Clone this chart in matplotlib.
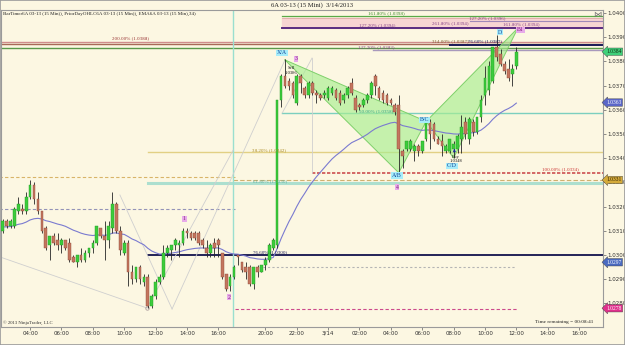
import matplotlib.pyplot as plt
import numpy as np

# 15 minute bars of 6A 03-13 (bar index = position)
opens = [1.0310, 1.0314, 1.0312, 1.0312, 1.0318, 1.0319, 1.0318, 1.0324, 1.0329, 1.0323,
         1.0318, 1.0311, 1.0304, 1.0308, 1.0306, 1.0304, 1.0306, 1.0305, 1.0299, 1.0297,
         1.0300, 1.0298, 1.0301, 1.0303, 1.0305, 1.0311, 1.0308, 1.0306, 1.0311, 1.0321,
         1.0310, 1.0301, 1.0305, 1.0293, 1.0290, 1.0295, 1.0289, 1.0291, 1.0279, 1.0283,
         1.0289, 1.0291, 1.0301, 1.0302, 1.0304, 1.0304, 1.0305, 1.0310, 1.0309, 1.0309,
         1.0309, 1.0306, 1.0303, 1.0301, 1.0305, 1.0306, 1.0301, 1.0292, 1.0287, 1.0291,
         1.0300, 1.0297, 1.0295, 1.0295, 1.0288, 1.0295, 1.0293, 1.0296, 1.0298, 1.0303,
         1.0304, 1.0364, 1.0374, 1.0372, 1.0371, 1.0363, 1.0374, 1.0369, 1.0366, 1.0371,
         1.0367, 1.0366, 1.0366, 1.0365, 1.0367, 1.0368, 1.0367, 1.0364, 1.0366, 1.0371,
         1.0365, 1.0362, 1.0362, 1.0364, 1.0366, 1.0374, 1.0369, 1.0367, 1.0366, 1.0364,
         1.0362, 1.0362, 1.0343, 1.0344, 1.0344, 1.0343, 1.0345, 1.0343, 1.0348, 1.0355,
         1.0354, 1.0348, 1.0347, 1.0343, 1.0343, 1.0344, 1.0344, 1.0348, 1.0355, 1.0348,
         1.0355, 1.0351, 1.0357, 1.0366, 1.0368, 1.0372, 1.0386, 1.0383, 1.0379, 1.0377,
         1.0375, 1.0378]
highs = [1.0315, 1.0315, 1.0315, 1.0320, 1.0324, 1.0321, 1.0326, 1.0331, 1.0330, 1.0326,
         1.0318, 1.0312, 1.0308, 1.0309, 1.0309, 1.0307, 1.0306, 1.0307, 1.0300, 1.0300,
         1.0303, 1.0302, 1.0303, 1.0306, 1.0312, 1.0311, 1.0314, 1.0314, 1.0326, 1.0322,
         1.0312, 1.0306, 1.0306, 1.0296, 1.0295, 1.0296, 1.0292, 1.0292, 1.0284, 1.0290,
         1.0292, 1.0304, 1.0304, 1.0304, 1.0307, 1.0306, 1.0311, 1.0311, 1.0310, 1.0310,
         1.0310, 1.0307, 1.0306, 1.0305, 1.0307, 1.0307, 1.0301, 1.0292, 1.0292, 1.0296,
         1.0300, 1.0297, 1.0297, 1.0296, 1.0295, 1.0296, 1.0296, 1.0299, 1.0305, 1.0307,
         1.0364, 1.0375, 1.0381, 1.0373, 1.0372, 1.0375, 1.0375, 1.0370, 1.0372, 1.0372,
         1.0368, 1.0367, 1.0368, 1.0370, 1.0370, 1.0369, 1.0368, 1.0367, 1.0370, 1.0373,
         1.0366, 1.0363, 1.0365, 1.0367, 1.0372, 1.0375, 1.0370, 1.0368, 1.0367, 1.0365,
         1.0363, 1.0366, 1.0344, 1.0347, 1.0348, 1.0346, 1.0346, 1.0347, 1.0357, 1.0356,
         1.0355, 1.0349, 1.0350, 1.0346, 1.0348, 1.0347, 1.0350, 1.0358, 1.0357, 1.0357,
         1.0356, 1.0357, 1.0366, 1.0378, 1.0380, 1.0386, 1.0391, 1.0385, 1.0380, 1.0381,
         1.0379, 1.0386]
lows = [1.0309, 1.0311, 1.0311, 1.0311, 1.0317, 1.0317, 1.0317, 1.0323, 1.0321, 1.0317,
        1.0309, 1.0302, 1.0298, 1.0304, 1.0302, 1.0301, 1.0302, 1.0297, 1.0297, 1.0295,
        1.0297, 1.0297, 1.0299, 1.0301, 1.0304, 1.0307, 1.0298, 1.0303, 1.0309, 1.0309,
        1.0300, 1.0300, 1.0287, 1.0288, 1.0289, 1.0288, 1.0287, 1.0278, 1.0278, 1.0282,
        1.0288, 1.0290, 1.0299, 1.0298, 1.0302, 1.0299, 1.0304, 1.0307, 1.0306, 1.0306,
        1.0304, 1.0303, 1.0299, 1.0299, 1.0299, 1.0299, 1.0290, 1.0285, 1.0285, 1.0290,
        1.0296, 1.0293, 1.0290, 1.0287, 1.0286, 1.0291, 1.0293, 1.0294, 1.0297, 1.0302,
        1.0303, 1.0361, 1.0369, 1.0368, 1.0365, 1.0362, 1.0367, 1.0365, 1.0365, 1.0366,
        1.0363, 1.0364, 1.0365, 1.0364, 1.0366, 1.0364, 1.0362, 1.0363, 1.0365, 1.0366,
        1.0359, 1.0360, 1.0361, 1.0363, 1.0365, 1.0366, 1.0364, 1.0363, 1.0362, 1.0362,
        1.0358, 1.0334, 1.0336, 1.0343, 1.0343, 1.0339, 1.0341, 1.0342, 1.0347, 1.0344,
        1.0347, 1.0346, 1.0341, 1.0342, 1.0342, 1.0340, 1.0342, 1.0342, 1.0348, 1.0346,
        1.0349, 1.0350, 1.0355, 1.0362, 1.0366, 1.0371, 1.0380, 1.0378, 1.0375, 1.0372,
        1.0370, 1.0377]
closes = [1.0314, 1.0312, 1.0314, 1.0319, 1.0321, 1.0318, 1.0324, 1.0329, 1.0323, 1.0318,
          1.0310, 1.0303, 1.0308, 1.0305, 1.0304, 1.0306, 1.0303, 1.0298, 1.0297, 1.0300,
          1.0298, 1.0301, 1.0303, 1.0305, 1.0312, 1.0308, 1.0306, 1.0312, 1.0321, 1.0310,
          1.0302, 1.0305, 1.0293, 1.0290, 1.0295, 1.0290, 1.0291, 1.0279, 1.0283, 1.0289,
          1.0291, 1.0301, 1.0303, 1.0304, 1.0306, 1.0305, 1.0310, 1.0309, 1.0307, 1.0307,
          1.0305, 1.0304, 1.0301, 1.0304, 1.0303, 1.0304, 1.0291, 1.0286, 1.0291, 1.0295,
          1.0299, 1.0294, 1.0293, 1.0288, 1.0295, 1.0293, 1.0296, 1.0298, 1.0304, 1.0306,
          1.0364, 1.0374, 1.0370, 1.0370, 1.0366, 1.0374, 1.0371, 1.0366, 1.0371, 1.0367,
          1.0366, 1.0365, 1.0367, 1.0369, 1.0369, 1.0365, 1.0363, 1.0366, 1.0369, 1.0367,
          1.0360, 1.0361, 1.0364, 1.0366, 1.0371, 1.0370, 1.0365, 1.0364, 1.0363, 1.0363,
          1.0359, 1.0344, 1.0341, 1.0347, 1.0347, 1.0345, 1.0343, 1.0347, 1.0355, 1.0350,
          1.0348, 1.0346, 1.0345, 1.0345, 1.0348, 1.0346, 1.0349, 1.0353, 1.0350, 1.0356,
          1.0351, 1.0357, 1.0364, 1.0373, 1.0378, 1.0386, 1.0382, 1.0379, 1.0376, 1.0373,
          1.0377, 1.0384]

# EMA(34) on the closes, started from the value seen at the left edge
ema_period = 34
ema_start = 1.03116

time_ticks = [7, 15, 23, 31, 39, 47, 55, 67, 75, 83, 91, 99, 107, 115, 123, 131, 139, 147]
time_labels = ['04:00', '06:00', '08:00', '10:00', '12:00', '14:00', '16:00', '20:00', '22:00',
               '3/14', '02:00', '04:00', '06:00', '08:00', '10:00', '12:00', '14:00', '16:00']
price_ticks = [1.0280, 1.0290, 1.0300, 1.0310, 1.0320, 1.0330, 1.0340, 1.0350, 1.0360,
               1.0370, 1.0380, 1.0390, 1.0400]

# fib / drawing-tool levels: price, first bar, last bar
level_prices = [1.03988, 1.03979, 1.03967, 1.03938, 1.03880, 1.03872, 1.03866, 1.03855,
                1.03847, 1.03587, 1.03426, 1.03339, 1.03322, 1.03310, 1.03298, 1.03190,
                1.03000, 1.02950, 1.02777]
level_start = [71.2, 71.2, 119.2, 71.2, -1, -1, 114, -1, 94.5, 71.2, 37.1, 78.9, -1, 58.8,
               37.1, -1, 37.1, 66.4, 59.3]
level_end = [154, 154, 154, 154, 154, 154, 154, 154, 154, 154, 154, 154, 59.3, 154, 154,
             59.3, 154, 130.7, 131.2]
level_colors = ['#5aaa48', '#e0a8a8', '#a088b8', '#5a2a80', '#d08c8c', '#a86a58', '#1a1a5a',
                '#5a9a4a', '#a898bc', '#7ccfbf', '#e2d084', '#cc5050', '#d8b468', '#d0b070',
                '#acdfcf', '#9494b8', '#12124c', '#b4b4b4', '#cc4a8c']
level_styles = ['-', '-', '-', '-', '-', '-', '-', '-', '-', '-', '-', (0, (2, 1)), (0, (3, 2)),
                (0, (4, 2)), '-', (0, (3, 2)), '-', (0, (2, 2)), (0, (3, 2))]
level_widths = [0.9, 0.6, 0.8, 1.4, 1.0, 1.0, 1.4, 1.0, 1.0, 1.0, 1.0, 1.2, 0.8, 0.8, 2.2,
                0.8, 1.3, 0.8, 0.8]

fib_texts = ['161.80% (1.0398)', '127.20% (1.0396)', '127.20% (1.0394)', '261.80% (1.0394)',
             '161.80% (1.0394)', '200.00% (1.0388)', '314.00% (1.0387)', '76.60% (1.0387)',
             '127.20% (1.0383)', '50.00% (1.0358)', '38.20% (1.0342)', '100.00% (1.0334)',
             '61.80% (1.0330)', '76.60% (1.0300)']
fib_text_bar = [97.8, 123.5, 95.5, 114.1, 132.2, 32.5, 114.1, 123.0, 95.2, 95.2, 68.0, 142.2,
                68.2, 68.2]
fib_text_price = [1.04000, 1.03979, 1.03950, 1.03959, 1.03955, 1.03897, 1.03884, 1.03884,
                  1.03860, 1.03595, 1.03434, 1.03355, 1.03306, 1.03012]
fib_text_colors = ['#3a8a2a', '#884488', '#884488', '#884488', '#884488', '#993333', '#7a5a2a',
                   '#1a1a5a', '#884488', '#33a088', '#aa8a22', '#cc3333', '#55aa99', '#1a1a5a']

# harmonic pattern points X, A, B, C, D
pattern_bar = [72, 101, 108, 115, 131.4]
pattern_price = [1.03806, 1.03340, 1.03552, 1.03401, 1.03938]

# thin grey swing legs (bar, price) pairs
swing_legs = [((-0.7, 1.02992), (36.8, 1.02781)),
              ((29.9, 1.03248), (43.2, 1.02777)),
              ((43.2, 1.02777), (72.0, 1.03806)),
              ((36.8, 1.02781), (58.8, 1.03434)),
              ((71.3, 1.03587), (78.9, 1.03814)),
              ((78.9, 1.03814), (78.9, 1.03339))]

# price tags on the right axis
tag_prices = [1.0384, 1.0363, 1.0331, 1.0297, 1.0278]
tag_colors = ['#3fd07a', '#5a66c8', '#d4aa3a', '#4a6ac0', '#e0308c']
tag_text_colors = ['#103010', 'white', '#302000', 'white', 'white']

bg = '#fcf7e2'
fig = plt.figure(figsize=(6.25, 3.45), dpi=100, facecolor=bg)
ax = fig.add_axes([1.5 / 625, 18 / 345, 601.5 / 625, 317 / 345])
ax.set_facecolor(bg)
plt.rcParams['font.family'] = ['Liberation Serif', 'DejaVu Sans']
fs = 4.0

n = len(closes)
bars = np.arange(n)
ax.set_xlim(-0.3, 153.1)
ax.set_ylim(1.027025, 1.040124)

# levels
for p, a, b, c, s, w in zip(level_prices, level_start, level_end, level_colors,
                            level_styles, level_widths):
    ax.plot([a, b], [p, p], color=c, ls=s, lw=w, zorder=2)
ax.fill_between([71.2, 154], 1.03938, 1.03979, color='#f7d4d2', zorder=1)
ax.axvline(58.8, color='#9adfcf', lw=1.0, zorder=2)

for (a, b) in swing_legs:
    ax.plot([a[0], b[0]], [a[1], b[1]], color='#cfcfcf', lw=0.6, zorder=2)
ax.plot(36.8, 1.02781, 'o', mfc='none', mec='#b0a0a0', ms=2.5, mew=0.6, zorder=3)

# harmonic triangles
X, A, B, C, D = list(zip(pattern_bar, pattern_price))
for tri in ([X, A, B], [B, C, D]):
    xs = [q[0] for q in tri]
    ys = [q[1] for q in tri]
    ax.fill(xs, ys, color='#a8ee90', alpha=0.65, lw=0, zorder=2)
    ax.plot(xs + [xs[0]], ys + [ys[0]], color='#7ed06a', lw=0.7, zorder=2)

for p, a, c, s in zip(fib_text_price, fib_text_bar, fib_text_colors, fib_texts):
    ax.text(a, p, s, fontsize=3.6, color=c, ha='center', va='center', zorder=6)

# candles
up = np.array(closes) >= np.array(opens)
ax.vlines(bars, lows, highs, color='#262626', lw=0.6, zorder=4)
body_lo = np.minimum(opens, closes)
body_h = np.maximum(np.abs(np.array(closes) - np.array(opens)), 0.00004)
ax.bar(bars, body_h, bottom=body_lo, width=0.68,
       color=np.where(up, '#3ccc3c', '#c4755e'),
       edgecolor=np.where(up, '#239a23', '#8e4a3a'), linewidth=0.3, zorder=5)

# EMA 34
k = 2.0 / (ema_period + 1)
ema = [ema_start]
for c in closes[1:]:
    ema.append(ema[-1] + k * (c - ema[-1]))
ax.plot(bars, ema, color='#7a7ad0', lw=0.8, zorder=3)

# pattern labels
def box(xv, yv, s, fc, tc):
    ax.text(xv, yv, s, fontsize=4.2, color=tc, ha='center', va='center', zorder=7,
            bbox=dict(boxstyle='square,pad=0.15', fc=fc, ec='none'))

for xv, yv, s in [(71.3, 1.03835, 'X/A'), (100.6, 1.03328, 'A/B'), (107.5, 1.03558, 'B/C'),
                  (114.6, 1.03368, 'C/D'), (126.9, 1.03921, 'D')]:
    box(xv, yv, s, '#a6ecfa', '#1a4a9a')
for xv, yv, s in [(74.8, 1.03810, '3'), (46.3, 1.03149, '1'), (57.7, 1.02826, '2'),
                  (100.6, 1.03281, '4'), (132.0, 1.03930, 'B1')]:
    box(xv, yv, s, '#e8aaea', '#80207a')

ax.text(73.5, 1.03773, 'Sell', fontsize=3.4, color='#202020', ha='center', va='center', zorder=7)
ax.text(73.5, 1.03752, '1.0386', fontsize=3.4, color='#202020', ha='center', va='center', zorder=7)
ax.text(115.5, 1.03405, 'Buy', fontsize=3.4, color='#202020', ha='center', va='center', zorder=7)
ax.text(115.5, 1.03388, '1.0348', fontsize=3.4, color='#202020', ha='center', va='center', zorder=7)
ax.annotate('', xy=(115.2, 1.03450), xytext=(115.2, 1.03420),
            arrowprops=dict(arrowstyle='-|>', color='#1a2a9a', lw=0.8, mutation_scale=3), zorder=7)

# axes
ax.yaxis.tick_right()
ax.set_yticks(price_ticks)
ax.set_yticklabels(['%.4f' % p for p in price_ticks], fontsize=fs, color='#303030')
ax.set_xticks(time_ticks)
ax.set_xticklabels(time_labels, fontsize=fs, color='#303030')
ax.tick_params(length=2, width=0.5, pad=0.8, colors='#606060', labelcolor='#303030')
for s in ax.spines.values():
    s.set_color('#9a9a9a')
    s.set_linewidth(0.8)

for p, c, tc in zip(tag_prices, tag_colors, tag_text_colors):
    ax.annotate('%.4f' % p, xy=(1.0, p), xycoords=('axes fraction', 'data'),
                xytext=(2.2, 0), textcoords='offset points', fontsize=4.0, color=tc,
                ha='left', va='center', zorder=8, annotation_clip=False,
                bbox=dict(boxstyle='larrow,pad=0.22', fc=c, ec='#404040', lw=0.3))

fig.text(312 / 625, 1 - 5 / 345, '6A 03-13 (15 Mini)  3/14/2013', fontsize=4.8,
         color='#202020', ha='center', va='center')
fig.text(3 / 625, 1 - 13.5 / 345,
         'BarTimer6A 03-13 (15 Min)), PriorDayOHLC6A 03-13 (15 Min)), EMA6A 03-13 (15 Min),34)',
         fontsize=3.6, color='#202020', ha='left', va='center')
fig.text(3 / 625, 1 - 322.5 / 345, '\u00a9 2013 NinjaTrader, LLC', fontsize=3.4,
         color='#303030', ha='left', va='center')
fig.text(593 / 625, 1 - 322 / 345, 'Time remaining = 00:08:41', fontsize=3.8,
         color='#202020', ha='right', va='center')
fig.text(597 / 625, 1 - 14 / 345, '\u22c8', fontsize=6, color='#707070', ha='center',
         va='center', family='DejaVu Sans')
fig.patches.append(plt.Rectangle((0, 0), 1, 1, transform=fig.transFigure, fill=False,
                                 ec='#9a9a9a', lw=1.2))

fig.savefig('out.png', dpi=100, facecolor=bg)
